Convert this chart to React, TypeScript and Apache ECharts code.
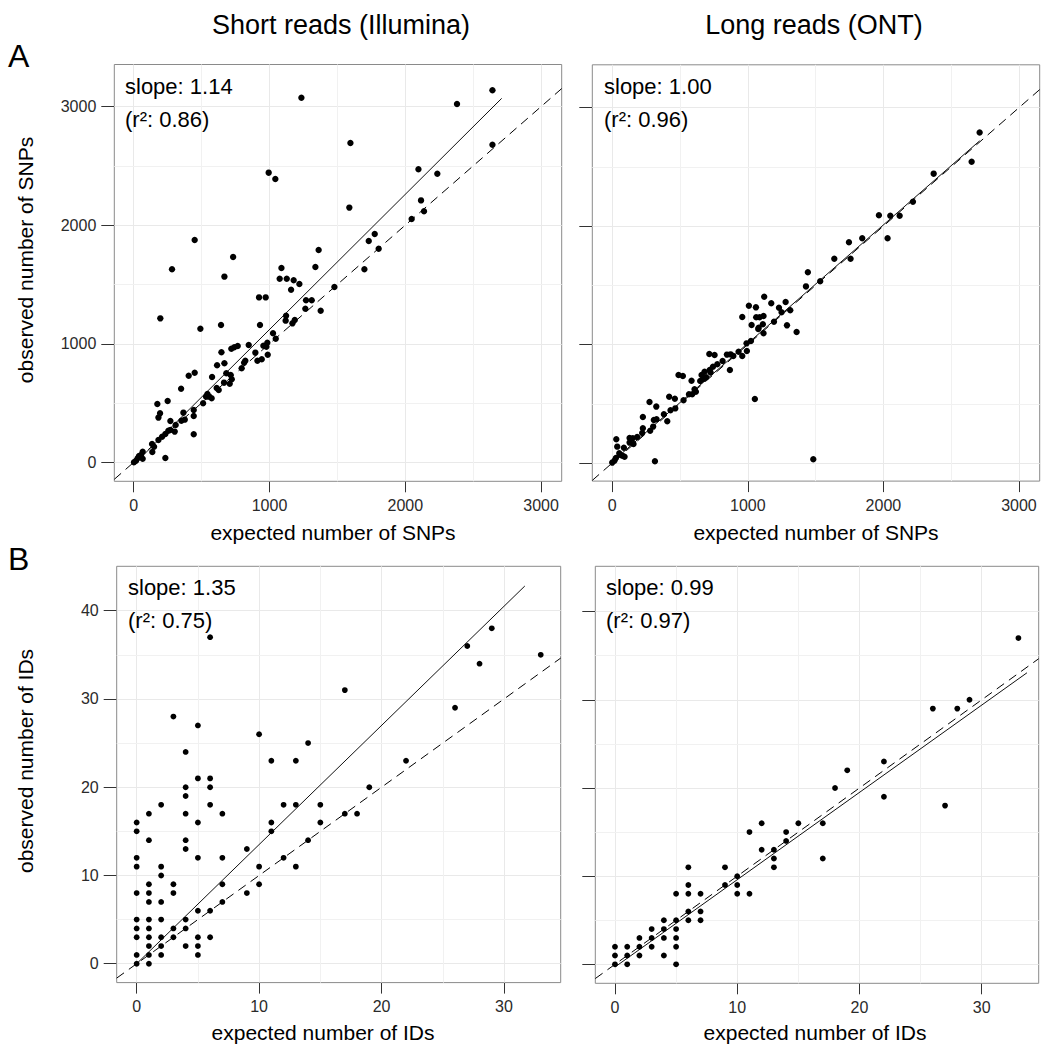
import React, { useEffect, useRef } from "react";
import * as echarts from "echarts";

// ---------- data ----------
const snpTicks = [0, 1000, 2000, 3000];
const snpMinor = [500, 1500, 2500];
const idTicksX = [0, 10, 20, 30];
const idTicksY = [0, 10, 20, 30, 40];
const idMinorX = [5, 15, 25];
const idMinorY = [5, 15, 25, 35];

const columnTitles = ["Short reads (Illumina)", "Long reads (ONT)"];
const rowLetters = ["A", "B"];
const xAxisNames = ["expected number of SNPs", "expected number of IDs"];
const yAxisNames = ["observed number of SNPs", "observed number of IDs"];

// panel order: A-short, A-long, B-short, B-long
const slopes = [1.14, 1.0, 1.35, 0.99];
const intercepts = [-20, 10, 0, -0.3];
const fitFrom = [0, 0, 0, 0];
const fitTo = [2710, 2710, 31.7, 33.7];
const r2Values = [0.86, 0.96, 0.75, 0.97];

const snpShort: number[][] = [
  [2642, 3137], [1235, 3075], [2381, 3022], [1596, 2693], [2642, 2679], [994, 2443], [1043, 2389],
  [2097, 2471], [2236, 2434], [1588, 2148], [2116, 2209], [2138, 2117], [2047, 2052], [1775, 1926],
  [1731, 1866], [1804, 1802], [449, 1875], [732, 1732], [282, 1628], [668, 1566], [1362, 1791],
  [1338, 1647], [1088, 1639], [1075, 1549], [1127, 1549], [1178, 1535], [1220, 1504], [1159, 1456],
  [1699, 1628], [1478, 1479], [923, 1391], [972, 1391], [1269, 1366], [1311, 1366], [1264, 1296],
  [1377, 1279], [1122, 1237], [1119, 1195], [1169, 1172], [1186, 1200], [196, 1214], [643, 1158],
  [491, 1127], [930, 1158], [1026, 1088], [1046, 1043], [984, 1009], [955, 984], [977, 975],
  [987, 908], [847, 989], [896, 925], [943, 869], [911, 857], [822, 857], [813, 840], [795, 793],
  [766, 981], [741, 970], [719, 958], [646, 928], [668, 835], [614, 818], [682, 751], [714, 736],
  [722, 700], [707, 663], [665, 672], [626, 610], [611, 627], [577, 720], [449, 756], [405, 731],
  [349, 621], [543, 576], [555, 554], [574, 540], [533, 554], [511, 498], [250, 517], [174, 492],
  [194, 413], [182, 377], [366, 419], [442, 441], [442, 391], [442, 236], [376, 360], [351, 351],
  [309, 315], [270, 349], [270, 273], [302, 259], [255, 267], [233, 239], [209, 216], [182, 188],
  [150, 132], [135, 155], [137, 87], [233, 37], [66, 90], [54, 62], [39, 53], [66, 31], [17, 14],
  [2, 0], [29, 34],
];

const snpLong: number[][] = [
  [2710, 2791], [2651, 2544], [2371, 2443], [2218, 2206], [1967, 2091], [2051, 2088], [2120, 2088],
  [2031, 1897], [1844, 1897], [1746, 1863], [1638, 1725], [1758, 1725], [1443, 1610], [1429, 1491],
  [1534, 1534], [1121, 1404], [1008, 1328], [1060, 1314], [1173, 1348], [1230, 1311], [1279, 1359],
  [1313, 1289], [1249, 1272], [959, 1233], [1062, 1230], [1087, 1230], [1116, 1241], [1028, 1165],
  [1080, 1142], [1111, 1171], [1193, 1193], [1289, 1162], [1360, 1106], [1077, 1131], [1116, 1095],
  [1023, 1030], [991, 1010], [993, 946], [959, 903], [932, 940], [893, 903], [873, 917], [846, 915],
  [814, 861], [775, 833], [716, 920], [755, 912], [868, 785], [743, 813], [719, 785], [681, 771],
  [659, 743], [693, 723], [725, 765], [649, 692], [671, 709], [585, 695], [489, 743], [521, 734],
  [607, 622], [590, 580], [617, 602], [566, 580], [526, 529], [1052, 540], [420, 560], [462, 543],
  [465, 461], [430, 445], [381, 411], [406, 352], [275, 515], [325, 476], [327, 369], [307, 363],
  [226, 388], [302, 307], [280, 273], [226, 293], [221, 253], [184, 220], [152, 208], [128, 211],
  [128, 172], [157, 160], [86, 129], [30, 200], [37, 138], [52, 82], [74, 62], [91, 53], [27, 42],
  [0, 3], [17, 20], [315, 14], [1483, 31], [57, 70],
];

const idShort: number[][] = [
  [0, 0], [0, 1], [0, 3], [0, 4], [0, 5], [0, 8], [0, 11], [0, 12], [0, 15], [0, 16],
  [1, 0], [1, 1], [1, 2], [1, 3], [1, 4], [1, 5], [1, 7], [1, 8], [1, 9], [1, 14], [1, 17],
  [2, 1], [2, 2], [2, 3], [2, 5], [2, 7], [2, 10], [2, 11], [2, 18],
  [3, 3], [3, 4], [3, 8], [3, 9], [3, 28],
  [4, 2], [4, 4], [4, 5], [4, 13], [4, 14], [4, 17], [4, 19], [4, 20], [4, 24],
  [5, 1], [5, 2], [5, 3], [5, 6], [5, 12], [5, 16], [5, 21], [5, 27],
  [6, 3], [6, 6], [6, 18], [6, 20], [6, 21], [6, 37],
  [7, 7], [7, 9], [7, 12], [7, 17],
  [9, 8], [9, 13], [10, 9], [10, 11], [10, 26], [11, 15], [11, 16], [11, 23],
  [12, 12], [12, 18], [13, 11], [13, 18], [13, 23], [14, 14], [14, 25], [15, 16], [15, 18],
  [17, 17], [17, 31], [18, 17], [19, 20], [22, 23], [26, 29], [27, 36], [28, 34], [29, 38], [33, 35],
];

const idLong: number[][] = [
  [0, 0], [0, 1], [0, 2], [1, 0], [1, 1], [1, 2], [2, 1], [2, 2], [2, 3], [3, 2], [3, 3], [3, 4],
  [4, 1], [4, 3], [4, 4], [4, 5], [5, 0], [5, 2], [5, 3], [5, 4], [5, 5], [5, 8],
  [6, 5], [6, 6], [6, 8], [6, 9], [6, 11], [7, 5], [7, 6], [7, 8], [9, 9], [9, 11],
  [10, 8], [10, 9], [10, 10], [11, 8], [11, 15], [12, 13], [12, 16], [13, 11], [13, 12], [13, 13],
  [14, 14], [14, 15], [15, 16], [17, 12], [17, 16], [18, 20], [19, 22], [22, 19], [22, 23],
  [26, 29], [27, 18], [28, 29], [29, 30], [33, 37],
];

// ---------- layout ----------
const FONT = "'Liberation Sans', Arial, Helvetica, sans-serif";

const panelLayout = [
  { left: 114.3, top: 64.5, width: 447.4, height: 416.8, x: [-143, 3152], y: [-160, 3355], dot: 6.4, text: [125, 86, 119] },
  { left: 592.3, top: 64.8, width: 447.4, height: 416.3, x: [-147, 3153], y: [-153, 3362], dot: 6.4, text: [604, 86, 119] },
  { left: 116.7, top: 566.3, width: 444, height: 416.3, x: [-1.63, 34.63], y: [-2.14, 45.03], dot: 5.8, text: [128, 587, 620] },
  { left: 595.3, top: 566.3, width: 443.4, height: 417, x: [-1.61, 34.66], y: [-2.15, 45.14], dot: 5.8, text: [606, 587, 620] },
];

const panelData = [snpShort, snpLong, idShort, idLong];

function txt(text: string, x: number, y: number, size: number, align = "left", color = "#000", rotation = 0) {
  return {
    type: "text",
    x,
    y,
    z: 100,
    rotation,
    silent: true,
    style: {
      text,
      fill: color,
      fontSize: size,
      fontFamily: FONT,
      align,
      textAlign: align,
      verticalAlign: "middle",
      textVerticalAlign: "middle",
    },
  };
}

const plainNumber = (v: number) => String(v);

function buildOption() {
  const grids: any[] = [];
  const xAxes: any[] = [];
  const yAxes: any[] = [];
  const series: any[] = [];

  panelLayout.forEach((p, i) => {
    const isSnp = i < 2;
    const isLeft = i % 2 === 0;
    const xt = isSnp ? snpTicks : idTicksX;
    const yt = isSnp ? snpTicks : idTicksY;
    const xm = isSnp ? snpMinor : idMinorX;
    const ym = isSnp ? snpMinor : idMinorY;

    grids.push({
      left: p.left,
      top: p.top,
      width: p.width,
      height: p.height,
      show: true,
      borderColor: "#8a8a8a",
      borderWidth: 1,
      backgroundColor: "#fff",
      containLabel: false,
    });

    xAxes.push({
      type: "value",
      gridIndex: i,
      min: p.x[0],
      max: p.x[1],
      splitLine: { show: false },
      axisLine: { show: false, onZero: false },
      axisTick: { show: true, length: 11, inside: false, customValues: xt, lineStyle: { color: "#333", width: 1 } },
      axisLabel: { show: true, customValues: xt, formatter: plainNumber, margin: 16, fontSize: 16, color: "#2a2a2a", fontFamily: FONT },
    });

    yAxes.push({
      type: "value",
      gridIndex: i,
      min: p.y[0],
      max: p.y[1],
      splitLine: { show: false },
      axisLine: { show: false, onZero: false },
      axisTick: { show: true, length: 13, inside: false, customValues: yt, lineStyle: { color: "#333", width: 1 } },
      axisLabel: { show: isLeft, customValues: yt, formatter: plainNumber, margin: 18, fontSize: 16, color: "#2a2a2a", fontFamily: FONT },
    });

    const major = "#e9e9e9";
    const minor = "#f1f1f1";
    const gridLines = [
      ...xt.map((v) => ({ xAxis: v, lineStyle: { color: major } })),
      ...yt.map((v) => ({ yAxis: v, lineStyle: { color: major } })),
      ...xm.map((v) => ({ xAxis: v, lineStyle: { color: minor } })),
      ...ym.map((v) => ({ yAxis: v, lineStyle: { color: minor } })),
    ];

    series.push({
      type: "line",
      xAxisIndex: i,
      yAxisIndex: i,
      data: [],
      silent: true,
      markLine: {
        silent: true,
        z: 1,
        symbol: ["none", "none"],
        label: { show: false },
        emphasis: { disabled: true },
        lineStyle: { type: "solid", width: 1 },
        data: gridLines,
      },
    });

    // identity line (dashed)
    series.push({
      type: "line",
      xAxisIndex: i,
      yAxisIndex: i,
      data: [
        [p.x[0], p.x[0]],
        [p.x[1], p.x[1]],
      ],
      showSymbol: false,
      silent: true,
      z: 3,
      lineStyle: { color: "#000", width: 1, type: [9, 6] },
    });

    // fitted regression line (solid)
    const s = slopes[i];
    const b = intercepts[i];
    series.push({
      type: "line",
      xAxisIndex: i,
      yAxisIndex: i,
      data: [
        [fitFrom[i], s * fitFrom[i] + b],
        [fitTo[i], s * fitTo[i] + b],
      ],
      showSymbol: false,
      silent: true,
      z: 4,
      lineStyle: { color: "#111", width: 1, type: "solid" },
    });

    series.push({
      type: "scatter",
      xAxisIndex: i,
      yAxisIndex: i,
      data: panelData[i],
      symbol: "circle",
      symbolSize: p.dot,
      itemStyle: { color: "#000", opacity: 1 },
      z: 5,
      silent: true,
    });
  });

  const graphics: any[] = [];
  graphics.push(txt(columnTitles[0], 341, 25, 27, "center"));
  graphics.push(txt(columnTitles[1], 814, 25, 27, "center"));
  graphics.push(txt(rowLetters[0], 8, 56, 32));
  graphics.push(txt(rowLetters[1], 8, 558.5, 32));
  graphics.push(txt(xAxisNames[0], 333, 532, 21, "center"));
  graphics.push(txt(xAxisNames[0], 816, 532, 21, "center"));
  graphics.push(txt(xAxisNames[1], 323, 1032, 21, "center"));
  graphics.push(txt(xAxisNames[1], 815, 1032, 21, "center"));
  graphics.push(txt(yAxisNames[0], 25.5, 260, 21, "center", "#000", Math.PI / 2));
  graphics.push(txt(yAxisNames[1], 25.5, 761, 21, "center", "#000", Math.PI / 2));
  panelLayout.forEach((p, i) => {
    graphics.push(txt(`slope: ${slopes[i].toFixed(2)}`, p.text[0], p.text[1], 22));
    graphics.push(txt(`(r\u00B2: ${r2Values[i].toFixed(2)})`, p.text[0], p.text[2], 22));
  });

  return {
    animation: false,
    backgroundColor: "#fff",
    textStyle: { fontFamily: FONT },
    grid: grids,
    xAxis: xAxes,
    yAxis: yAxes,
    series,
    graphic: graphics,
  };
}

export default function App() {
  const ref = useRef<HTMLDivElement>(null);
  useEffect(() => {
    if (!ref.current) return;
    const chart = echarts.init(ref.current, undefined, { renderer: "svg" });
    chart.setOption(buildOption() as any);
    return () => chart.dispose();
  }, []);
  return (
    <div
      ref={ref}
      style={{ position: "fixed", left: 0, top: 0, width: 1043, height: 1047, background: "#fff" }}
    />
  );
}
